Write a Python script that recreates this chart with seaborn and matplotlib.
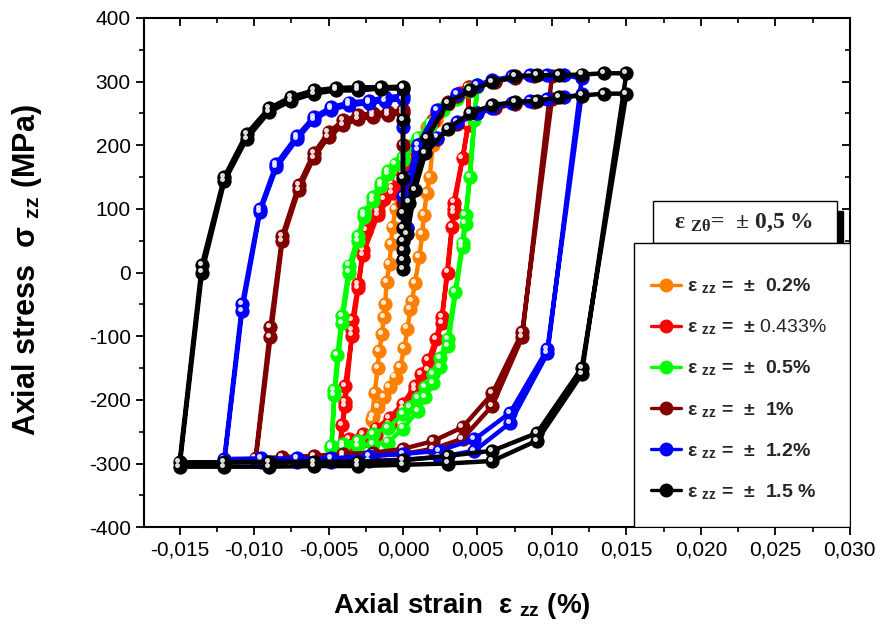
import matplotlib
matplotlib.use("Agg")
import matplotlib.pyplot as plt
import matplotlib.transforms as mtransforms
from matplotlib.lines import Line2D
from matplotlib.patches import Rectangle
from matplotlib.ticker import MultipleLocator, FuncFormatter
import seaborn as sns

orange_x = [0.0022, 0.002, 0.0018, 0.0016, 0.0014, 0.0013, 0.0011, 0.0008, 0.0006, 0.0005, 0.0003,
            0.0001, -0.0002, -0.0005, -0.0009, -0.0013, -0.0017, -0.002,
            -0.0021, -0.0019, -0.0017, -0.0016, -0.0014, -0.0013, -0.0012, -0.0011, -0.0009, -0.0008,
            -0.0007, -0.0005, -0.0003, 0.0, 0.0004, 0.001, 0.0016, 0.0022]
orange_y = [240, 200, 150, 125, 90, 61, 25, -17, -45, -57, -88,
            -118, -149, -165, -180, -195, -212, -225,
            -232, -190, -150, -123, -96, -70, -50, -15, 14, 45,
            71, 100, 125, 150, 175, 203, 228, 240]

red_x = [0.0044, 0.0044, 0.004, 0.0034, 0.0034, 0.0033, 0.003, 0.0026, 0.0022, 0.0017, 0.0012, 0.0008,
         0.0, -0.0009, -0.0018, -0.0027, -0.0036, -0.0043,
         -0.0041, -0.0039, -0.0039, -0.0034, -0.0034, -0.003, -0.0027, -0.0025, -0.0017, -0.0013,
         -0.0007, -0.0003, 0.0, 0.0005, 0.001, 0.002, 0.003, 0.0038, 0.0044,
         0.0044, 0.0034, 0.0026, 0.0017, 0.0008, 0.0, -0.0009, -0.0018, -0.0027, -0.0036, -0.0043,
         -0.0039, -0.0034, -0.003, -0.0027, -0.0017, -0.0007, 0.0, 0.001, 0.002, 0.003, 0.0044]
red_y = [292, 239, 180, 110, 94, 71, 0, -70, -105, -138, -160, -178,
         -206, -228, -245, -254, -261, -285,
         -240, -204, -178, -99, -75, -18, 35, 66, 97, 116,
         132, 145, 157, 180, 200, 240, 268, 282, 292,
         232, 100, -79, -154, -185, -215, -238, -255, -265, -275, -295,
         -210, -90, -25, 28, 90, 125, 150, 195, 236, 265, 290]

green_x = [0.005, 0.0048, 0.0045, 0.0042, 0.004, 0.0035, 0.003, 0.0025, 0.002, 0.0015, 0.001, 0.0005,
           0.0, -0.001, -0.002, -0.003, -0.004, -0.0048,
           -0.0046, -0.0044, -0.0041, -0.0036, -0.003, -0.0026, -0.002, -0.0015, -0.001, -0.0005,
           0.0, 0.0005, 0.001, 0.0018, 0.0027, 0.0036, 0.0045, 0.005,
           0.0048, 0.0042, 0.004, 0.003, 0.0025, 0.002, 0.0015, 0.001, 0.0, -0.001, -0.002, -0.003,
           -0.004, -0.0048,
           -0.0046, -0.0041, -0.0036, -0.003, -0.0026, -0.002, -0.0015, -0.001, 0.0, 0.001, 0.0018,
           0.0027, 0.0036, 0.0045, 0.005]
green_y = [295, 244, 150, 90, 47, -30, -104, -135, -159, -180, -197, -212,
           -222, -244, -253, -264, -269, -272,
           -185, -130, -68, 11, 58, 93, 118, 141, 160, 171,
           181, 198, 212, 234, 258, 275, 288, 295,
           240, 77, 40, -115, -148, -173, -195, -217, -245, -267, -270, -272,
           -274, -276,
           -193, -80, 0, 50, 88, 113, 136, 155, 176, 208, 230,
           255, 272, 285, 292]

dred_x = [0.0, 0.0003, 0.001, 0.0023, 0.0036, 0.005, 0.0062, 0.0075, 0.0088, 0.01,
          0.008, 0.006, 0.004, 0.002, 0.0, -0.002, -0.004, -0.006, -0.0081, -0.0099,
          -0.0089, -0.0081, -0.007, -0.006, -0.005, -0.004, -0.003, -0.002, -0.001, 0.0,
          0.0, 0.0, 0.0004, 0.001, 0.0023, 0.0036, 0.005, 0.0062, 0.0075, 0.0088, 0.01,
          0.008, 0.006, 0.004, 0.002, 0.0, -0.002, -0.004, -0.006, -0.0081, -0.0099,
          -0.0089, -0.0081, -0.007, -0.006, -0.005, -0.004, -0.003, -0.002, -0.001, 0.0]
dred_y = [20, 70, 185, 210, 234, 250, 258, 265, 268, 272,
          -94, -190, -243, -265, -277, -283, -285, -288, -290, -292,
          -86, 58, 137, 187, 220, 239, 247, 250, 252, 255,
          200, 110, 140, 200, 250, 278, 293, 300, 306, 308, 308,
          -102, -209, -261, -277, -285, -288, -290, -292, -294, -296,
          -102, 50, 130, 180, 213, 232, 241, 245, 248, 250]

blue_x = [0.0, 0.0003, 0.001, 0.0023, 0.0036, 0.005, 0.006, 0.0073, 0.0085, 0.0097, 0.0108, 0.012,
          0.0097, 0.0072, 0.0048, 0.0024, 0.0, -0.0023, -0.0048, -0.0071, -0.0095, -0.012,
          -0.0108, -0.0096, -0.0085, -0.0071, -0.006, -0.0048, -0.0036, -0.0023, -0.0012, 0.0,
          0.0, 0.0, 0.0004, 0.001, 0.0023, 0.0036, 0.005, 0.006, 0.0073, 0.0085, 0.0097, 0.0108, 0.012,
          0.0097, 0.0072, 0.0048, 0.0024, 0.0, -0.0023, -0.0048, -0.0071, -0.0095, -0.012,
          -0.0108, -0.0096, -0.0085, -0.0071, -0.006, -0.0048, -0.0036, -0.0023, -0.0012, 0.0]
blue_y = [20, 70, 192, 212, 236, 250, 258, 266, 270, 273, 275, 280,
          -120, -220, -262, -280, -285, -288, -292, -292, -292, -293,
          -50, 100, 171, 215, 244, 260, 267, 270, 275, 278,
          228, 120, 150, 200, 255, 281, 295, 302, 308, 310, 310, 310, 305,
          -127, -236, -280, -290, -294, -296, -297, -297, -298, -298,
          -60, 95, 165, 210, 240, 256, 263, 266, 270, 272]

black_x = [0.0, 0.0, 0.0, 0.0, 0.0003, 0.0008, 0.0015, 0.003, 0.0045, 0.006, 0.0075, 0.009, 0.0105,
           0.012, 0.0135, 0.015,
           0.012, 0.009, 0.006, 0.003, 0.0, -0.003, -0.006, -0.009, -0.012, -0.015,
           -0.0135, -0.012, -0.0105, -0.009, -0.0075, -0.006, -0.0045, -0.003, -0.0015, 0.0,
           0.0, 0.0, 0.0, 0.0, 0.0004, 0.0016, 0.003, 0.0045, 0.006, 0.0075, 0.009, 0.0105, 0.012,
           0.0135, 0.015,
           0.012, 0.009, 0.006, 0.003, 0.0, -0.003, -0.006, -0.009, -0.012, -0.015,
           -0.0135, -0.012, -0.0105, -0.009, -0.0075, -0.006, -0.0045, -0.003, -0.0015, 0.0]
black_y = [5, 20, 35, 50, 61, 130, 187, 226, 250, 263, 268, 270, 275,
           278, 281, 281,
           -150, -252, -280, -288, -295, -297, -297, -297, -298, -298,
           12, 150, 218, 258, 276, 286, 290, 291, 291, 292,
           240, 148, 94, 70, 110, 211, 266, 286, 299, 308, 310, 310, 311,
           313, 313,
           -160, -264, -296, -300, -302, -304, -304, -305, -305, -305,
           0, 143, 210, 252, 270, 281, 286, 286, 289, 289]

labels = [r"ε $_{\mathbf{zz}}$ =  ±  0.2%",
          r"ε $_{\mathbf{zz}}$ =  ± $\mathrm{0.433\%}$",
          r"ε $_{\mathbf{zz}}$ =  ±  0.5%",
          r"ε $_{\mathbf{zz}}$ =  ±  1%",
          r"ε $_{\mathbf{zz}}$ =  ±  1.2%",
          r"ε $_{\mathbf{zz}}$ =  ±  1.5 %"]
colors = ["#FF8000", "#FF0000", "#00FF00", "#800000", "#0000FF", "#000000"]

series = [(orange_x, orange_y), (red_x, red_y), (green_x, green_y),
          (dred_x, dred_y), (blue_x, blue_y), (black_x, black_y)]

sns.set_theme(style="ticks")
plt.rcParams["font.family"] = ["Liberation Sans", "DejaVu Sans"]
plt.rcParams["mathtext.fontset"] = "custom"
plt.rcParams["mathtext.rm"] = "Liberation Sans"
plt.rcParams["mathtext.bf"] = "Liberation Sans:bold"
plt.rcParams["mathtext.it"] = "Liberation Serif:bold"

fig, ax = plt.subplots(figsize=(8.77, 6.39), dpi=100)
fig.subplots_adjust(left=0.164, right=0.969, bottom=0.175, top=0.972)

# little white shine on each ball marker
shine = mtransforms.offset_copy(ax.transData, fig=fig, x=-1.5, y=1.5, units="points")

for (xs, ys), c in zip(series, colors):
    sns.lineplot(x=xs, y=ys, sort=False, estimator=None, color=c, lw=3.2,
                 marker="o", markersize=9.5, markeredgecolor=c, ax=ax, legend=False)
    ax.plot(xs, ys, ls="none", marker="o", ms=2.6, color="white", alpha=0.8, transform=shine)

ax.set_xlim(-0.0174, 0.030)
ax.set_ylim(-400, 400)
ax.xaxis.set_major_locator(MultipleLocator(0.005))
ax.xaxis.set_minor_locator(MultipleLocator(0.0025))
ax.yaxis.set_major_locator(MultipleLocator(100))
ax.yaxis.set_minor_locator(MultipleLocator(50))
ax.xaxis.set_major_formatter(FuncFormatter(lambda v, p: f"{v:.3f}".replace(".", ",").replace("-0,000", "0,000")))
ax.yaxis.set_major_formatter(FuncFormatter(lambda v, p: f"{v:.0f}"))
ax.tick_params(which="both", direction="out", top=False, right=False, colors="black", labelsize=15)
ax.tick_params(which="major", length=6, width=1.3)
ax.tick_params(which="minor", length=3.5, width=1.2)
for s in ax.spines.values():
    s.set_color("black")
    s.set_linewidth(1.5)

secx = ax.secondary_xaxis("top")
secx.xaxis.set_major_locator(MultipleLocator(0.005))
secx.xaxis.set_minor_locator(MultipleLocator(0.0025))
secx.tick_params(which="both", direction="in", labeltop=False, colors="black")
secx.tick_params(which="major", length=6, width=1.3)
secx.tick_params(which="minor", length=3.5, width=1.2)
secy = ax.secondary_yaxis("right")
secy.yaxis.set_major_locator(MultipleLocator(100))
secy.yaxis.set_minor_locator(MultipleLocator(50))
secy.tick_params(which="both", direction="in", labelright=False, colors="black")
secy.tick_params(which="major", length=6, width=1.3)
secy.tick_params(which="minor", length=3.5, width=1.2)

ax.set_xlabel(r"Axial strain  ε $_{\mathbf{zz}}$ (%)", fontsize=20, fontweight="bold", color="black")
ax.set_ylabel(r"Axial stress  σ $_{\mathbf{zz}}$ (MPa)", fontsize=22, fontweight="bold", color="black")
ax.xaxis.set_label_coords(0.45, -0.125)
ax.yaxis.set_label_coords(-0.142, 0.505)

# epsilon z-theta box with its dark shadow
ax.add_patch(Rectangle((0.975, 0.558), 0.016, 0.062, transform=ax.transAxes,
                       facecolor="black", edgecolor="black", zorder=5))
ax.add_patch(Rectangle((0.721, 0.558), 0.261, 0.082, transform=ax.transAxes,
                       facecolor="white", edgecolor="black", lw=1, zorder=6))
ax.text(0.85, 0.598, r"ε $_{\mathit{Z\theta}}$=  ± 0,5 %", transform=ax.transAxes,
        ha="center", va="center", fontsize=17, fontweight="bold",
        family=["Liberation Serif", "DejaVu Serif"], zorder=7)

# legend frame drawn separately so the padding can differ left/top
ax.add_patch(Rectangle((0.694, 0.0), 0.306, 0.558, transform=ax.transAxes,
                       facecolor="white", edgecolor="black", lw=1, zorder=7))
handles = [Line2D([], [], color=c, lw=2.4, marker="o", ms=9, markeredgecolor=c) for c in colors]
leg = ax.legend(handles, labels, loc="center left", bbox_to_anchor=(0.719, 0.271),
                prop={"weight": "bold", "size": 14}, frameon=False,
                borderpad=0, labelspacing=1.1, handlelength=1.5, handletextpad=0.35,
                borderaxespad=0)
leg.set_zorder(8)

fig.savefig("out.png", dpi=100)
